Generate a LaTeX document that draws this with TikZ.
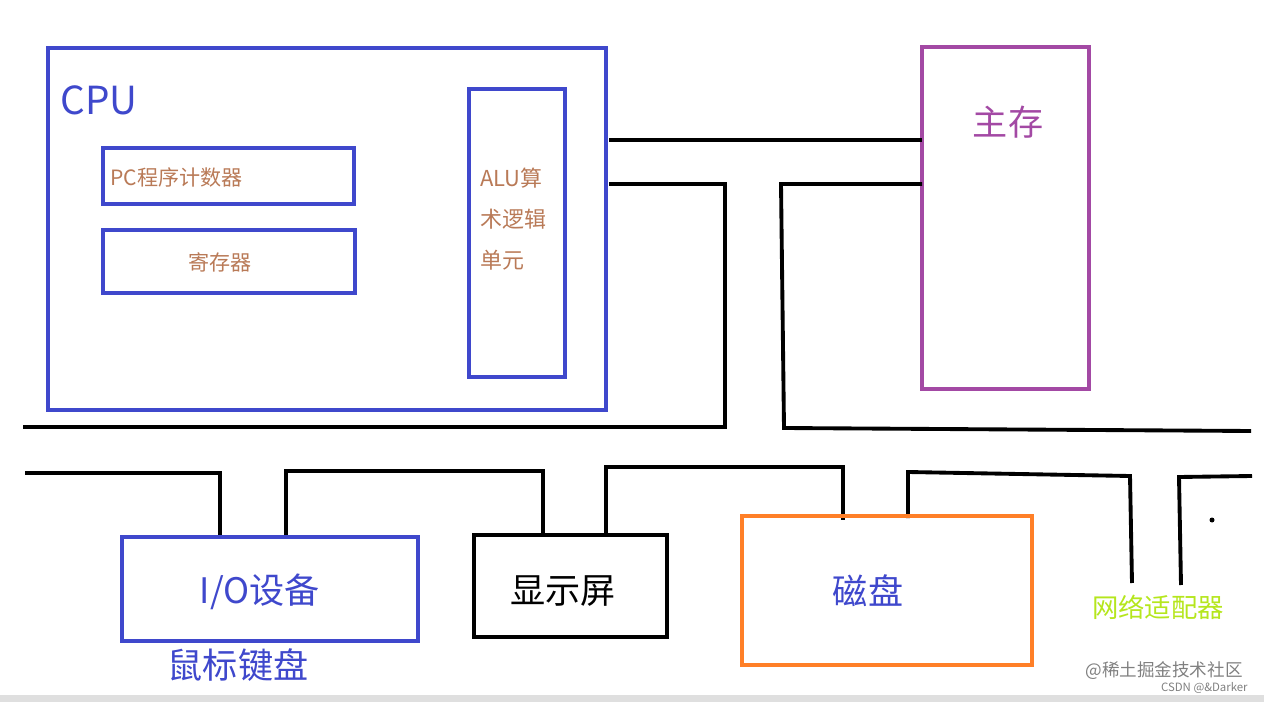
\documentclass[tikz,border=0pt]{standalone}
\usepackage{fontspec}
\setmainfont{Noto Sans CJK SC}
\definecolor{bl}{HTML}{3F48CC}
\definecolor{br}{HTML}{B97A57}
\definecolor{pu}{HTML}{A349A4}
\definecolor{og}{HTML}{FF7F27}
\definecolor{yg}{HTML}{B5E61D}
\tikzset{box/.style={draw=#1,line width=2pt},wire/.style={draw=black,line width=2.2pt},
 txt/.style={inner sep=0pt}}
\newcommand{\fs}[1]{\fontsize{#1}{#1}\selectfont}
\begin{document}
\begin{tikzpicture}[x=0.02cm,y=-0.02cm]
\useasboundingbox (0,0) rectangle (1264,702);
\fill[gray!25] (0,695) rectangle (1264,702);
\draw[box=bl] (48,48) rectangle (606,410);
\node[txt,text=bl,anchor=west] (cpu) at (60,100) {\fs{22}CPU};
\draw[box=bl] (103,148) rectangle (354,204);
\node[txt,text=br,anchor=west] (pc) at (110,177) {\fs{12}PC程序计数器};
\draw[box=bl] (103,230) rectangle (355,293);
\node[txt,text=br] (reg) at (220,262) {\fs{12}寄存器};
\draw[box=bl] (469,89) rectangle (565,377);
\node[txt,text=br,anchor=west] (alu1) at (480,178) {\fs{12.5}ALU算};
\node[txt,text=br,anchor=west] (alu2) at (480,219) {\fs{12.5}术逻辑};
\node[txt,text=br,anchor=west] (alu3) at (480,260) {\fs{12.5}单元};
\draw[box=pu] (922,47) rectangle (1089,389);
\node[txt,text=pu] (mem) at (1008,122) {\fs{20}主存};
\draw[wire] (609,140) -- (922,140);
\draw[wire] (609,184) -- (725,184) -- (725,427) -- (23,427);
\draw[wire] (922,184) -- (781,184) -- (784,428) -- (1251,431);
\draw[wire] (25,473) -- (220,473) -- (220,537);
\draw[wire] (286,537) -- (286,471) -- (543,471) -- (543,533);
\draw[wire] (606,533) -- (606,467) -- (843,467) -- (843,520);
\draw[wire] (908,518) -- (908,472) -- (1130,476) -- (1132,583);
\draw[wire] (1181,585) -- (1179,477) -- (1252,476);
\fill (1212,520) circle (2.5);
\draw[box=bl] (122,537) rectangle (418,641);
\node[txt,text=bl] (io) at (260,592) {\fs{20}I/O设备};
\node[txt,text=bl] (kb) at (238,665) {\fs{20}鼠标键盘};
\draw[box=black] (474,535) rectangle (667,637);
\node[txt] (disp) at (563,591) {\fs{20}显示屏};
\draw[box=og] (742,516) rectangle (1032,665);
\node[txt,text=bl] (disk) at (868,591) {\fs{20}磁盘};
\node[txt,text=yg] (net) at (1158,607) {\fs{15}网络适配器};
\node[txt,text=gray,anchor=east] (wm1) at (1243,671) {\fs{10}@稀土掘金技术社区};
\node[txt,text=gray,anchor=east] (wm2) at (1248,688) {\fs{6.5}CSDN @\&Darker};
\end{tikzpicture}
\end{document}
